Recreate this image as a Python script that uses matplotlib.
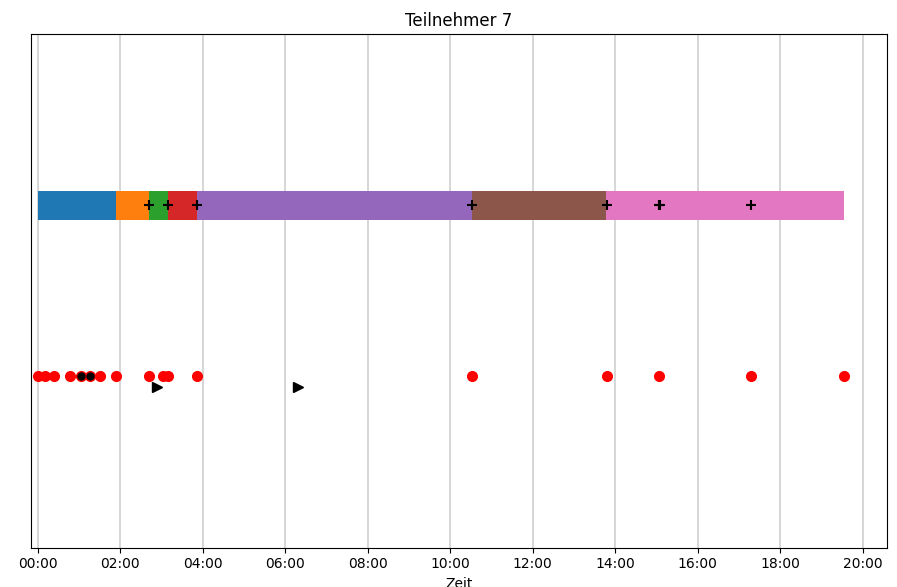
import matplotlib
matplotlib.use("Agg")
import matplotlib.pyplot as plt
from matplotlib.ticker import FuncFormatter, MultipleLocator

# Data (seconds)
segment_bounds = [0, 113, 161, 190, 232, 631, 827, 1173]
segment_colors = ["tab:blue", "tab:orange", "tab:green", "tab:red",
                  "tab:purple", "tab:brown", "tab:pink"]
event_times = [0, 10, 23, 46, 62, 76, 91, 114, 161, 182, 190, 232,
               631, 828, 904, 1037, 1173]
black_dots = [62, 76]
bar_markers = [161, 190, 232, 631, 828, 903, 905, 1037]
triangles = [174, 379]

bar_y = 1
event_y = 0
tri_y = -0.06

fig = plt.figure(figsize=(8.97, 5.87), dpi=100)
ax = fig.add_axes([0.0346, 0.067, 0.9539, 0.875])

starts = segment_bounds[:-1]
widths = [b - a for a, b in zip(segment_bounds[:-1], segment_bounds[1:])]
ax.barh([bar_y] * len(starts), widths, left=starts, height=0.17,
        color=segment_colors, zorder=2)
ax.plot(bar_markers, [bar_y] * len(bar_markers), "k+", markersize=7,
        markeredgewidth=1.5, zorder=3)

ax.plot(event_times, [event_y] * len(event_times), "ro", markersize=7, zorder=3)
ax.plot(black_dots, [event_y] * len(black_dots), "ko", markersize=5, zorder=4)
ax.plot(triangles, [tri_y] * len(triangles), "k>", markersize=7, zorder=4)

ax.set_xlim(-10, 1235)
ax.set_ylim(-1, 2)
ax.set_yticks([])
ax.xaxis.set_major_locator(MultipleLocator(120))
ax.xaxis.set_major_formatter(FuncFormatter(
    lambda v, p: f"{int(round(v)) // 60:02d}:{int(round(v)) % 60:02d}"))
ax.grid(True, axis="x", color="#d0d0d0", linewidth=1.2, zorder=0)
ax.set_axisbelow(True)
ax.set_xlabel("Zeit", fontsize=10)
ax.set_title("Teilnehmer 7", fontsize=12)

fig.savefig("out.png", dpi=100)
